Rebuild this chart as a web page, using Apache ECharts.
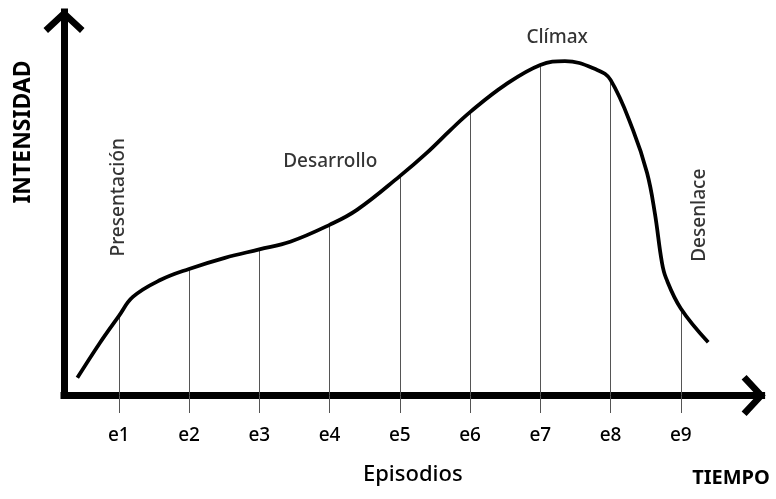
<!DOCTYPE html>
<html>
<head>
    <meta charset="utf-8">
    <title>Estructura narrativa</title>
    <script src="https://cdn.jsdelivr.net/npm/echarts@6.0.0/dist/echarts.min.js"></script>
</head>
<body style="background-color:#fff;margin:0px;">
    <div id="main" style="width:776px;height:499px;"></div>
    <script type="text/javascript">
        // episodes on the time axis (e1..e9 sit at x = 1..9)
        var episodes = ['e1', 'e2', 'e3', 'e4', 'e5', 'e6', 'e7', 'e8', 'e9'];
        var episodeX = [1, 2, 3, 4, 5, 6, 7, 8, 9];
        // intensity where the curve crosses each episode
        var episodeLevels = [20.7, 33.0, 38.1, 44.5, 57.2, 73.9, 86.2, 82.3, 22.7];
        // extra points giving the curve its shape between episodes
        var shapeX = [0.41, 0.73, 1.20, 1.59, 2.51, 3.44, 4.39, 5.38, 5.72, 6.50, 7.35, 7.81, 8.32, 8.52, 8.63, 8.73, 8.79, 9.39];
        var shapeY = [4.6, 13.7, 25.7, 30.1, 35.9, 40.1, 48.4, 63.2, 69.2, 81.0, 87.2, 84.9, 69.2, 58.0, 47.6, 34.8, 30.6, 13.9];
        // phase labels
        var phaseNames = ['Presentación', 'Desarrollo', 'Clímax', 'Desenlace'];
        var phaseX = [0.99, 4.01, 7.24, 9.27];
        var phaseY = [51.7, 61.1, 93.2, 47.0];
        var phaseRotate = [90, 0, 0, 90];

        var FONT = 'Noto Sans';
        // open chevron used as arrow head
        var chevron = 'path://M0,19 L20.5,0 L41,19 L36.5,24 L20.5,9 L4.5,24 Z';

        var curve = [];
        for (var i = 0; i < episodeX.length; i++) curve.push([episodeX[i], episodeLevels[i]]);
        for (var j = 0; j < shapeX.length; j++) curve.push([shapeX[j], shapeY[j]]);
        curve.sort(function (a, b) { return a[0] - b[0]; });

        var drops = [];
        for (var k = 0; k < episodeX.length; k++) {
            drops.push([{ coord: [episodeX[k], 0] }, { coord: [episodeX[k], episodeLevels[k]] }]);
        }

        var phases = [];
        for (var p = 0; p < phaseNames.length; p++) {
            phases.push({
                value: [phaseX[p], phaseY[p]],
                name: phaseNames[p],
                label: { rotate: phaseRotate[p] }
            });
        }

        var myChart = echarts.init(document.getElementById('main'), null, { renderer: 'canvas' });
        var option = {
            animation: false,
            backgroundColor: '#fff',
            grid: { left: 64, right: 14.4, top: 12, bottom: 103.5, containLabel: false, outerBoundsMode: 'none' },
            xAxis: {
                type: 'value',
                min: 0.22,
                max: 10.15,
                name: 'Episodios',
                nameLocation: 'middle',
                nameGap: 68,
                nameTextStyle: { fontFamily: FONT, fontSize: 22, fontWeight: 500, color: '#000' },
                axisLine: {
                    onZero: false,
                    symbol: ['none', chevron],
                    symbolSize: [41, 24],
                    symbolOffset: [0, -8],
                    lineStyle: { color: '#000', width: 7, cap: 'square' }
                },
                axisTick: {
                    customValues: episodeX,
                    length: 17.5,
                    lineStyle: { color: '#555', width: 1 }
                },
                axisLabel: {
                    customValues: episodeX,
                    margin: 31,
                    fontFamily: FONT,
                    fontSize: 19,
                    fontWeight: 500,
                    color: '#000',
                    formatter: function (v) { return episodes[episodeX.indexOf(v)]; }
                },
                splitLine: { show: false }
            },
            yAxis: {
                type: 'value',
                min: 0,
                max: 100,
                axisLine: {
                    show: true,
                    onZero: false,
                    symbol: ['none', chevron],
                    symbolSize: [41, 24],
                    symbolOffset: [0, -9],
                    lineStyle: { color: '#000', width: 7, cap: 'square' }
                },
                axisTick: { show: false },
                axisLabel: { show: false },
                splitLine: { show: false }
            },
            graphic: [
                {
                    type: 'text', x: 23, y: 132, rotation: Math.PI / 2,
                    style: { text: 'INTENSIDAD', fontFamily: FONT, fontWeight: 'bold', fontSize: 23, fill: '#000', align: 'center', verticalAlign: 'middle' }
                },
                {
                    type: 'text', x: 731, y: 478,
                    style: { text: 'TIEMPO', fontFamily: FONT, fontWeight: 'bold', fontSize: 20, fill: '#000', align: 'center', verticalAlign: 'middle' }
                }
            ],
            series: [
                {
                    type: 'line',
                    data: curve,
                    smooth: 0.4,
                    showSymbol: false,
                    lineStyle: { color: '#000', width: 3.8 },
                    z: 3,
                    markLine: {
                        silent: true,
                        symbol: ['none', 'none'],
                        label: { show: false },
                        lineStyle: { color: '#555', width: 1, type: 'solid' },
                        data: drops,
                        z: 1
                    }
                },
                {
                    type: 'scatter',
                    data: phases,
                    symbolSize: 1,
                    itemStyle: { color: 'rgba(0,0,0,0)' },
                    label: {
                        show: true,
                        position: 'inside',
                        formatter: '{b}',
                        fontFamily: FONT,
                        fontSize: 19,
                        fontWeight: 500,
                        color: '#000'
                    }
                }
            ]
        };
        myChart.setOption(option);
    </script>
</body>
</html>
